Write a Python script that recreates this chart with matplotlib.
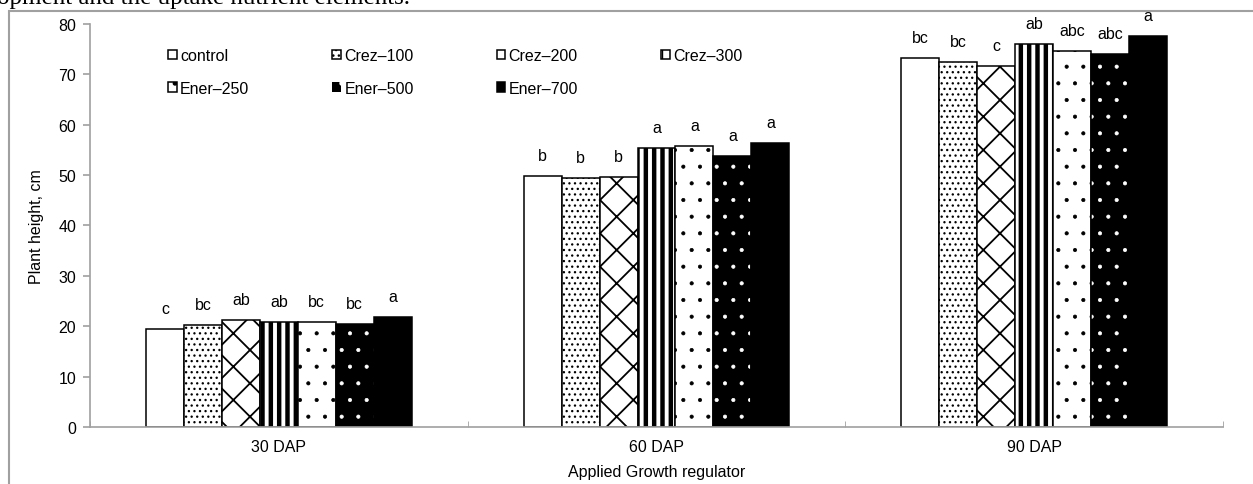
import numpy as np
import matplotlib
matplotlib.use("Agg")
import matplotlib.pyplot as plt
from matplotlib.patches import Rectangle

plt.rcParams['font.family'] = ['Liberation Sans', 'DejaVu Sans']
fs = 11.5

stages = ["30 DAP", "60 DAP", "90 DAP"]
treatments = ["control", "Crez–100", "Crez–200", "Crez–300", "Ener–250", "Ener–500", "Ener–700"]

control = [19.4, 49.9, 73.2]
crez_100 = [20.2, 49.5, 72.5]
crez_200 = [21.2, 49.6, 71.6]
crez_300 = [20.9, 55.4, 76.1]
ener_250 = [20.9, 55.8, 74.6]
ener_500 = [20.4, 53.8, 74.1]
ener_700 = [21.9, 56.3, 77.6]

letters_control = ["c", "b", "bc"]
letters_crez_100 = ["bc", "b", "bc"]
letters_crez_200 = ["ab", "b", "c"]
letters_crez_300 = ["ab", "a", "ab"]
letters_ener_250 = ["bc", "a", "abc"]
letters_ener_500 = ["bc", "a", "abc"]
letters_ener_700 = ["a", "a", "a"]

values = [control, crez_100, crez_200, crez_300, ener_250, ener_500, ener_700]
letters = [letters_control, letters_crez_100, letters_crez_200, letters_crez_300,
           letters_ener_250, letters_ener_500, letters_ener_700]

# fill, hatch, hatch colour, hatch linewidth
styles = [
    ("white", "", "black", 1.0),
    ("white", "...", "black", 0.9),
    ("white", "x", "black", 1.3),
    ("white", "||", "black", 3.2),
    ("white", ".", "black", 0.5),
    ("black", ".", "white", 0.5),
    ("black", "", "black", 1.0),
]

fig = plt.figure(figsize=(12.53, 4.85), dpi=100)
ax = fig.add_axes([90 / 1253, 1 - 428 / 485, 1133 / 1253, (428 - 25) / 485])

x = np.arange(len(stages))
w = 0.1005
handles = []
for i, (name, vals, labs, st) in enumerate(zip(treatments, values, letters, styles)):
    face, hatch, hcol, hlw = st
    pos = x + (i - 3) * w
    with plt.rc_context({'hatch.linewidth': hlw}):
        bars = ax.bar(pos, vals, w, color=face, edgecolor=hcol, hatch=hatch,
                      linewidth=0 if hcol == "white" else 1.1, label=name)
    for b in bars:
        if hasattr(b, "set_hatch_linewidth"):
            b.set_hatch_linewidth(hlw)
    if hcol == "white":
        ax.bar(pos, vals, w, fill=False, edgecolor="black", linewidth=1.1)
    handles.append(bars)
    for p, v, t in zip(pos, vals, labs):
        ax.annotate(t, (p, v), xytext=(0, 11.5), textcoords="offset points",
                    ha="center", va="baseline", fontsize=fs, annotation_clip=False)

ax.set_ylim(0, 80)
ax.set_xlim(-0.5, 2.5)
ax.set_yticks(np.arange(0, 81, 10))
ax.set_xticks(x)
ax.set_xticklabels(stages)
ax.set_xticks([-0.5, 0.5, 1.5, 2.5], minor=True)
ax.tick_params(axis="x", which="major", length=0, pad=9, labelsize=fs)
ax.tick_params(axis="x", which="minor", direction="in", length=4, color="#a0a0a0")
ax.tick_params(axis="y", length=5, color="#a0a0a0", width=1.2, labelsize=fs, pad=5)
for s in ["top", "right"]:
    ax.spines[s].set_visible(False)
for s in ["left", "bottom"]:
    ax.spines[s].set_color("#a0a0a0")
    ax.spines[s].set_linewidth(1.2)

ax.set_ylabel("Plant height, cm", fontsize=fs)
ax.yaxis.set_label_coords(-0.0406, 0.5)
ax.set_xlabel("Applied Growth regulator", fontsize=fs, labelpad=7)

# legend reads row by row: control, Crez-100, Crez-200, Crez-300 / Ener-...
order = [0, 4, 1, 5, 2, 6, 3]
ax.legend(handles=[handles[k] for k in order], labels=[treatments[k] for k in order],
          ncol=4, loc="upper left", frameon=False, fontsize=fs,
          bbox_to_anchor=(168 / 1253, 1 - 49 / 485), bbox_transform=fig.transFigure,
          borderpad=0, borderaxespad=0, handlelength=0.55, handleheight=0.55,
          handletextpad=0.2, columnspacing=5.2, labelspacing=1.1)

# chart frame and cut-off page text
fig.patches.append(Rectangle((9 / 1253, -0.1), 1.2, 1.1 - 12 / 485, transform=fig.transFigure,
                             fill=False, edgecolor="#a0a0a0", linewidth=1.5, zorder=0))
fig.text(-0.002, 1 - 4 / 485, "opment and the uptake nutrient elements.", family="Liberation Serif",
         fontsize=18, va="baseline", ha="left")

fig.savefig("out.png", dpi=100)
